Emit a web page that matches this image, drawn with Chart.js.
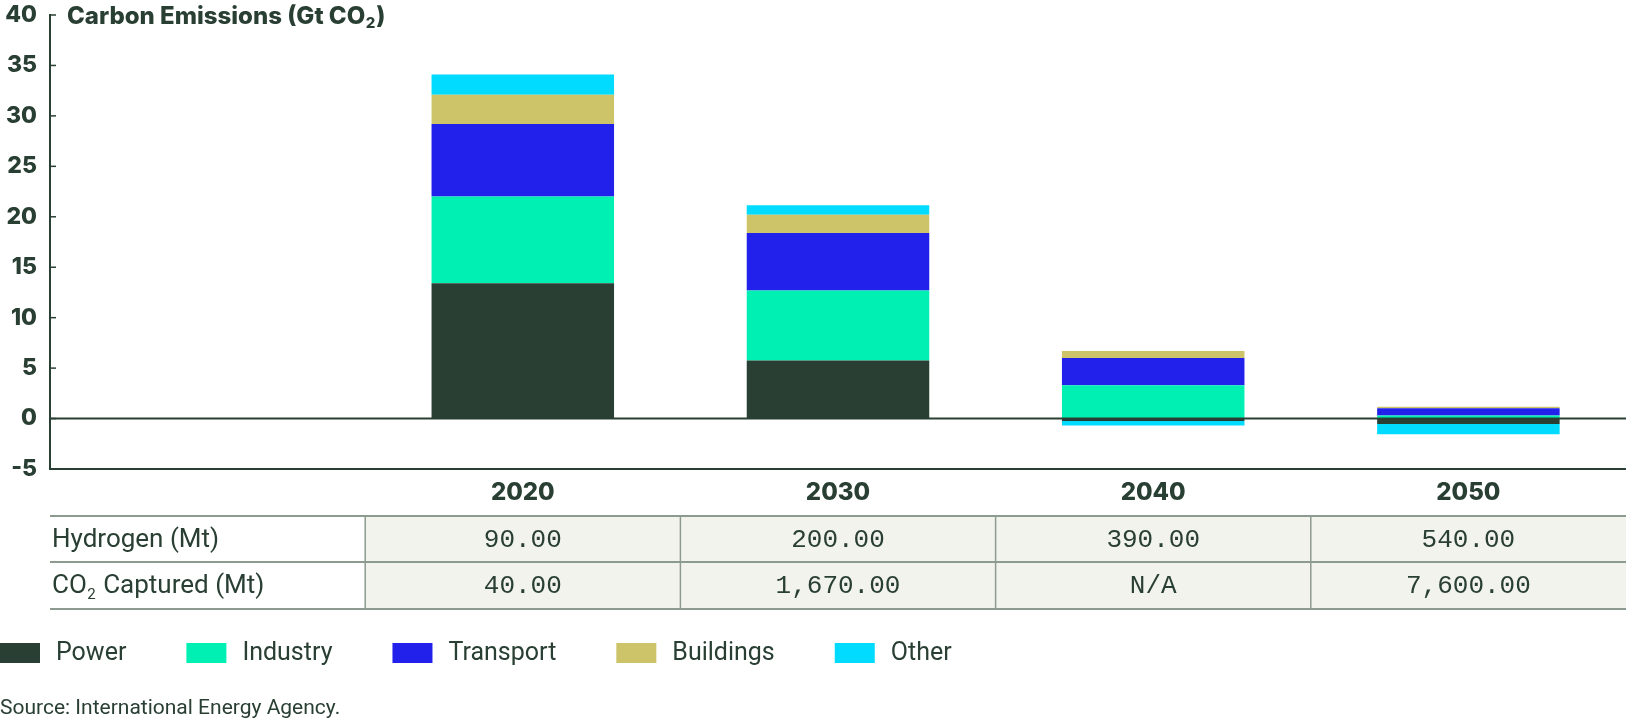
<!DOCTYPE html>
<html><head><meta charset="utf-8">
<script src="https://cdn.jsdelivr.net/npm/chart.js@4"></script>
<style>html,body{margin:0;padding:0;background:#fff}#wrap{width:1626px;height:726px;position:relative}</style>
</head><body><div id="wrap"><canvas id="c" width="1626" height="726"></canvas></div>
<script>
// ---- data ----
const categories = ['', '2020', '2030', '2040', '2050'];
const power     = [null, 13.4, 5.75, -0.25, -0.55];
const industry  = [null, 8.6, 6.95, 3.3, 0.3];
const transport = [null, 7.2, 5.7, 2.7, 0.72];
const buildings = [null, 2.9, 1.8, 0.7, 0.15];
const other     = [null, 2.0, 0.95, -0.45, -1.0];
const seriesNames = ['Power', 'Industry', 'Transport', 'Buildings', 'Other'];
const yTickValues = [-5, 0, 5, 10, 15, 20, 25, 30, 35, 40];
const tableRowLabels = ['Hydrogen (Mt)', 'CO2 Captured (Mt)'];
const hydrogenValues = ['90.00', '200.00', '390.00', '540.00'];
const co2CapturedValues = ['40.00', '1,670.00', 'N/A', '7,600.00'];
const titleText = 'Carbon Emissions (Gt CO2)';
const sourceText = 'Source: International Energy Agency.';

// ---- style ----
const INK = '#293f33';
const COLORS = ['#293f33', '#00f0b4', '#2121eb', '#cdc46a', '#00dbff'];
const BOLD = '"Inter", "Liberation Sans", sans-serif';
const REG = '"Roboto", "Liberation Sans", sans-serif';
const MONO = '"Liberation Mono", "DejaVu Sans Mono", monospace';

const seriesData = [power, industry, transport, buildings, other];

// draw text with a subscript "2" after "CO"
function drawSubText(ctx, text, x, y, font, subFont, align, subDy) {
  const idx = text.indexOf('CO2');
  const parts = idx >= 0 ? [text.slice(0, idx + 2), '2', text.slice(idx + 3)] : [text, '', ''];
  ctx.font = font; const w0 = ctx.measureText(parts[0]).width; const w2 = ctx.measureText(parts[2]).width;
  ctx.font = subFont; const w1 = ctx.measureText(parts[1]).width;
  let sx = x;
  if (align === 'center') sx = x - (w0 + w1 + w2) / 2;
  ctx.textAlign = 'left';
  ctx.textBaseline = 'middle';
  ctx.font = font; ctx.fillText(parts[0], sx, y);
  ctx.font = subFont; ctx.fillText(parts[1], sx + w0 + 0.5, y + subDy);
  ctx.font = font; ctx.fillText(parts[2], sx + w0 + w1 + 1.5, y);
}

const overlay = {
  id: 'overlay',
  afterDatasetsDraw(chart) {
    const ctx = chart.ctx;
    const ys = chart.scales.y;
    const ca = chart.chartArea;
    ctx.save();
    const y0 = ys.getPixelForValue(0);
    ctx.strokeStyle = INK; ctx.lineWidth = 2;
    ctx.beginPath(); ctx.moveTo(ca.left, y0); ctx.lineTo(ca.right, y0); ctx.stroke();
    ctx.lineWidth = 1.5;
    yTickValues.forEach(v => {
      const py = ys.getPixelForValue(v);
      ctx.beginPath(); ctx.moveTo(ca.left, py); ctx.lineTo(ca.left + 6, py); ctx.stroke();
    });
    ctx.restore();
  },
  afterDraw(chart) {
    const ctx = chart.ctx;
    const xs = chart.scales.x;
    const ca = chart.chartArea;
    ctx.save();
    ctx.fillStyle = INK;
    // title
    drawSubText(ctx, titleText, 67, 17, '800 24px ' + BOLD, '800 15px ' + BOLD, 'left', 6);

    // table
    const B = ca.bottom;
    const rowY = [B + 47, B + 93, B + 140];
    const bounds = [ca.left];
    for (let i = 1; i < categories.length; i++) {
      bounds.push((xs.getPixelForValue(i - 1) + xs.getPixelForValue(i)) / 2);
    }
    bounds.push(ca.right);
    ctx.fillStyle = '#f3f3ee';
    ctx.fillRect(bounds[1], rowY[0], bounds[bounds.length - 1] - bounds[1], rowY[2] - rowY[0]);
    ctx.strokeStyle = '#8d9a90'; ctx.lineWidth = 2;
    rowY.forEach(yy => { ctx.beginPath(); ctx.moveTo(ca.left, yy); ctx.lineTo(ca.right, yy); ctx.stroke(); });
    ctx.lineWidth = 1.5;
    for (let i = 1; i < bounds.length - 1; i++) {
      ctx.beginPath(); ctx.moveTo(bounds[i], rowY[0]); ctx.lineTo(bounds[i], rowY[2]); ctx.stroke();
    }
    ctx.fillStyle = INK;
    const rows = [hydrogenValues, co2CapturedValues];
    rows.forEach((vals, r) => {
      const cy = (rowY[r] + rowY[r + 1]) / 2 + 1;
      drawSubText(ctx, tableRowLabels[r], ca.left + 2, cy, '26px ' + REG, '15px ' + REG, 'left', 9);
      ctx.font = '26px ' + MONO; ctx.textAlign = 'center'; ctx.textBaseline = 'middle';
      vals.forEach((v, i) => ctx.fillText(v, xs.getPixelForValue(i + 1), cy));
    });

    // legend
    const ly = 653;
    let lx = 0;
    seriesNames.forEach((name, i) => {
      ctx.fillStyle = COLORS[i];
      ctx.fillRect(lx, ly - 10, 40, 20);
      ctx.fillStyle = INK;
      ctx.font = '25px ' + REG; ctx.textAlign = 'left'; ctx.textBaseline = 'middle';
      ctx.fillText(name, lx + 56, ly + 1);
      lx = lx + 56 + ctx.measureText(name).width + 60;
    });

    // source
    ctx.font = '21px ' + REG; ctx.textAlign = 'left'; ctx.textBaseline = 'middle';
    ctx.fillText(sourceText, 0, 709);
    ctx.restore();
  }
};

new Chart(document.getElementById('c'), {
  type: 'bar',
  data: {
    labels: categories,
    datasets: seriesNames.map((n, i) => ({
      label: n,
      data: seriesData[i],
      backgroundColor: COLORS[i],
      borderWidth: 0,
      categoryPercentage: 1,
      barPercentage: 0.579
    }))
  },
  options: {
    responsive: false,
    devicePixelRatio: 1,
    animation: false,
    layout: { padding: { top: 15, left: 0, right: 0, bottom: 0 } },
    plugins: { legend: { display: false }, tooltip: { enabled: false } },
    scales: {
      x: {
        stacked: true,
        grid: { display: false, drawTicks: false },
        border: { display: true, color: INK, width: 2 },
        ticks: { color: INK, font: { family: BOLD, size: 24, weight: '800' }, padding: 9 },
        afterFit(s) { s.height = 257; }
      },
      y: {
        stacked: true,
        min: -5, max: 40,
        grid: { display: false, drawTicks: false },
        border: { display: true, color: INK, width: 2 },
        ticks: { stepSize: 5, color: INK, font: { family: BOLD, size: 23, weight: '800' }, padding: 13 },
        afterFit(s) { s.width = 50; s.paddingTop = 0; s.paddingBottom = 0; }
      }
    }
  },
  plugins: [overlay]
});
</script>
</body></html>
